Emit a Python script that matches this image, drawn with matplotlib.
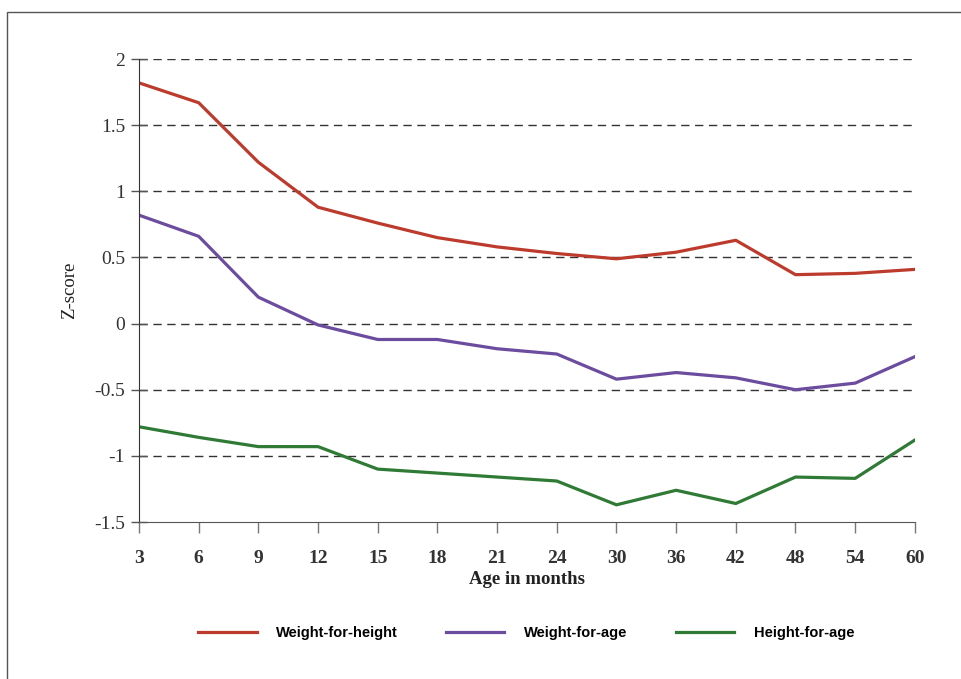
import matplotlib.pyplot as plt
from matplotlib.patches import Rectangle

# age groups (months) - plotted at equal spacing
ages = ['3', '6', '9', '12', '15', '18', '21', '24', '30', '36', '42', '48', '54', '60']

weight_for_height = [1.82, 1.67, 1.22, 0.88, 0.76, 0.65, 0.58, 0.53, 0.49, 0.54, 0.63, 0.37, 0.38, 0.41]
weight_for_age = [0.82, 0.66, 0.20, -0.01, -0.12, -0.12, -0.19, -0.23, -0.42, -0.37, -0.41, -0.50, -0.45, -0.25]
height_for_age = [-0.78, -0.86, -0.93, -0.93, -1.10, -1.13, -1.16, -1.19, -1.37, -1.26, -1.36, -1.16, -1.17, -0.88]

yticks = [-1.5, -1, -0.5, 0, 0.5, 1, 1.5, 2]
ytick_labels = ['-1.5', '-1', '-0.5', '0', '0.5', '1', '1.5', '2']

fig = plt.figure(figsize=(9.62, 6.79), dpi=100)
ax = fig.add_axes([0.1445, 0.2312, 0.8065, 0.6818])

x = range(len(ages))
ax.plot(x, weight_for_height, color='#bd3b2c', lw=2.3, label='Weight-for-height')
ax.plot(x, weight_for_age, color='#6b4c9e', lw=2.3, label='Weight-for-age')
ax.plot(x, height_for_age, color='#2f7a35', lw=2.3, label='Height-for-age')

ax.set_xlim(0, len(ages) - 1)
ax.set_ylim(-1.5, 2)
ax.set_xticks(list(x))
ax.set_xticklabels(ages, family='Liberation Serif', fontsize=14, fontweight='bold', color='#333333')
ax.set_yticks(yticks)
ax.set_yticklabels(ytick_labels, family='Liberation Serif', fontsize=14, color='#333333')

for yv in yticks[1:]:
    ax.axhline(yv, color='#333333', lw=1.0, ls=(0, (6, 4)), zorder=0)

ax.spines['top'].set_visible(False)
ax.spines['right'].set_visible(False)
ax.spines['left'].set_color('#333333')
ax.spines['bottom'].set_color('#555555')
ax.tick_params(axis='y', direction='inout', length=12, width=1, color='#555555', pad=4)
ax.tick_params(axis='x', direction='out', length=8, width=1, color='#777777', pad=12)

ax.set_xlabel('Age in months', family='Liberation Serif', fontsize=13.5, fontweight='bold', color='#222222', labelpad=3)
ax.set_ylabel('Z-score', family='Liberation Serif', fontsize=13.5, color='#222222', labelpad=12)

fig.legend(loc='center', bbox_to_anchor=(0.547, 0.068), ncol=3, frameon=False,
           handlelength=4.0, handletextpad=1.35, columnspacing=3.3,
           prop={'family': 'Liberation Sans', 'weight': 'bold', 'size': 10.5})

# frame around the whole figure
fig.patches.append(Rectangle((0.007, -0.01), 1.0, 0.993, transform=fig.transFigure,
                             fill=False, edgecolor='#555555', lw=1.0))

fig.savefig('out.png', dpi=100)
